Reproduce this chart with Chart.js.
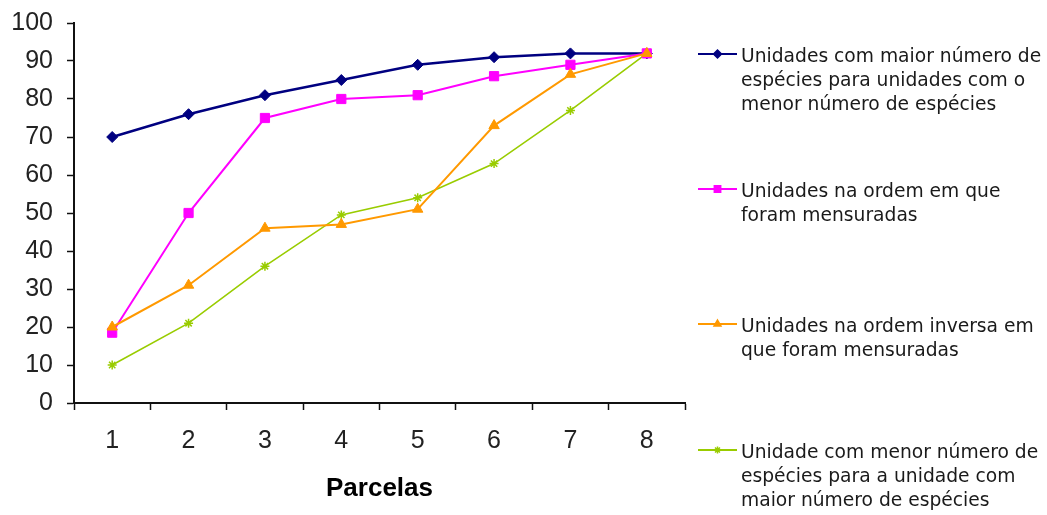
<!DOCTYPE html>
<html>
<head>
<meta charset="utf-8">
<script src="https://cdn.jsdelivr.net/npm/chart.js@4/dist/chart.umd.min.js"></script>
<style>
  html, body { margin: 0; padding: 0; background: #fff; }
  #wrap { width: 1047px; height: 515px; position: relative; }
</style>
</head>
<body>
<div id="wrap"><canvas id="c" width="1047" height="515"></canvas></div>
<script>
// Parcelas (sample plots) on the x axis
const parcelas = ['1', '2', '3', '4', '5', '6', '7', '8'];

// Species accumulation, one series per ordering of the plots
const maiorParaMenor = [70, 76, 81, 85, 89, 91, 92, 92];
const ordemMensurada = [18.5, 50, 75, 80, 81, 86, 89, 92];
const ordemInversa   = [20, 31, 46, 47, 51, 73, 86.5, 92];
const menorParaMaior = [10, 21, 36, 49.5, 54, 63, 77, 92];

// Legend texts, already broken into lines
const legendaMaior   = ['Unidades com maior número de', 'espécies para unidades com o', 'menor número de espécies'];
const legendaOrdem   = ['Unidades na ordem em que', 'foram mensuradas'];
const legendaInversa = ['Unidades na ordem inversa em', 'que foram mensuradas'];
const legendaMenor   = ['Unidade com menor número de', 'espécies para a unidade com', 'maior número de espécies'];

const yTicks = [0, 10, 20, 30, 40, 50, 60, 70, 80, 90, 100];

const AXIS_FONT = 'Liberation Sans, Arial, sans-serif';

// Legend on the right, each entry with a short line + marker and wrapped text
const sideLegend = {
  id: 'sideLegend',
  afterDraw(chart, args, opts) {
    const ctx = chart.ctx;
    ctx.save();
    chart.data.datasets.forEach((ds, i) => {
      const y = opts.rows[i];
      ctx.strokeStyle = ds.borderColor;
      ctx.fillStyle = ds.borderColor;
      ctx.lineWidth = 2;
      ctx.beginPath();
      ctx.moveTo(opts.lineStart, y);
      ctx.lineTo(opts.lineEnd, y);
      ctx.stroke();
      const mx = (opts.lineStart + opts.lineEnd) / 2;
      ctx.lineWidth = 1.5;
      Chart.helpers.drawPoint(ctx, {
        pointStyle: ds.pointStyle,
        radius: ds.legendRadius,
        borderWidth: 1.5,
        rotation: 0
      }, mx, y);
      ctx.fillStyle = opts.color;
      ctx.font = opts.font;
      ctx.textBaseline = 'alphabetic';
      ctx.textAlign = 'left';
      ds.legendLines.forEach((t, k) => {
        ctx.fillText(t, opts.textX, y + opts.baselineShift + k * opts.lineHeight);
      });
    });
    ctx.restore();
  }
};

function serie(label, data, color, style, radius, width, lines, legendRadius, order) {
  return {
    label, data,
    borderColor: color,
    backgroundColor: color,
    pointBackgroundColor: color,
    pointBorderColor: color,
    pointStyle: style,
    pointRadius: radius,
    pointHoverRadius: radius,
    pointBorderWidth: style === 'star' ? 1.5 : 1,
    borderWidth: width,
    tension: 0,
    fill: false,
    legendLines: lines,
    legendRadius,
    order
  };
}

new Chart(document.getElementById('c'), {
  type: 'line',
  data: {
    labels: parcelas,
    datasets: [
      serie(legendaMaior.join(' '), maiorParaMenor, '#000080', 'rectRot', 5.5, 2.5, legendaMaior, 4, 3),
      serie(legendaOrdem.join(' '), ordemMensurada, '#FF00FF', 'rect', 6.5, 2, legendaOrdem, 4.5, 2),
      serie(legendaInversa.join(' '), ordemInversa, '#FF9900', 'triangle', 6, 2, legendaInversa, 4, 1),
      serie(legendaMenor.join(' '), menorParaMaior, '#99CC00', 'star', 4.5, 1.6, legendaMenor, 3.5, 4)
    ]
  },
  options: {
    responsive: false,
    animation: false,
    events: [],
    layout: { padding: { top: 23, right: 362, left: 0, bottom: 0 } },
    plugins: {
      legend: { display: false },
      tooltip: { enabled: false },
      sideLegend: {
        rows: [54, 189, 324, 450],
        lineStart: 698,
        lineEnd: 737,
        textX: 741,
        baselineShift: 8,
        lineHeight: 24,
        font: '18.7px "DejaVu Sans", Verdana, sans-serif',
        color: '#1a1a1a'
      }
    },
    scales: {
      x: {
        offset: true,
        afterFit(scale) { scale.height = 112; },
        grid: {
          display: true,
          offset: true,
          drawOnChartArea: false,
          drawTicks: true,
          tickLength: 7,
          tickWidth: 1.5,
          tickColor: '#111'
        },
        border: { display: true, color: '#111', width: 2 },
        ticks: {
          color: '#222',
          font: { family: AXIS_FONT, size: 25 },
          padding: 16,
          maxRotation: 0
        },
        title: {
          display: true,
          text: 'Parcelas',
          color: '#000',
          font: { family: AXIS_FONT, size: 26, weight: 'bold' },
          padding: { top: 0, bottom: 11 }
        }
      },
      y: {
        min: 0,
        max: 100,
        afterFit(scale) {
          scale.width = 74;
          scale.paddingTop = 0;
          scale.paddingBottom = 0;
        },
        afterBuildTicks(scale) { scale.ticks = yTicks.map(v => ({ value: v })); },
        grid: {
          display: true,
          drawOnChartArea: false,
          drawTicks: true,
          tickLength: 7,
          tickWidth: 1.5,
          tickColor: '#111'
        },
        border: { display: true, color: '#111', width: 2 },
        ticks: {
          color: '#222',
          font: { family: AXIS_FONT, size: 25 },
          padding: 14
        }
      }
    }
  },
  plugins: [sideLegend]
});
</script>
</body>
</html>
